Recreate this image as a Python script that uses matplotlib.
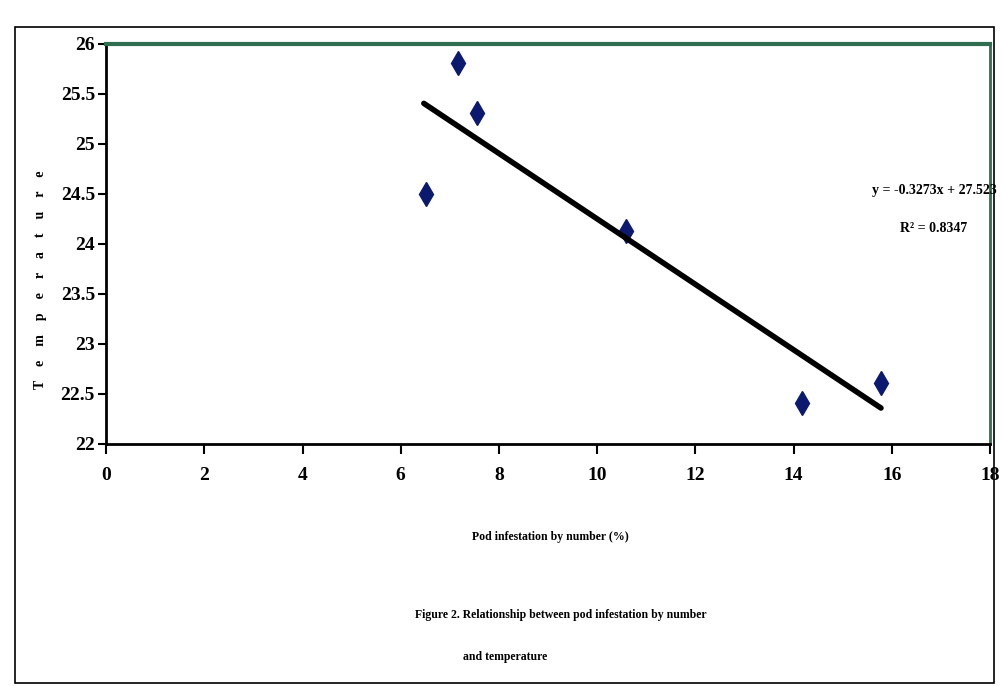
import matplotlib.pyplot as plt
import numpy as np
from matplotlib.patches import Rectangle

# datos
infestacion = [6.52, 7.17, 7.56, 10.59, 14.18, 15.78]
temperatura = [24.50, 25.81, 25.31, 24.13, 22.41, 22.61]
pendiente = -0.3273
intercepto = 27.523
r2 = 0.8347
x_ticks = [0, 2, 4, 6, 8, 10, 12, 14, 16, 18]
y_ticks = [22, 22.5, 23, 23.5, 24, 24.5, 25, 25.5, 26]

plt.rcParams["font.family"] = ["Liberation Serif", "DejaVu Serif"]
plt.rcParams["font.weight"] = "bold"

fig = plt.figure(figsize=(10.01, 6.86), dpi=100)
ax = fig.add_axes([0.106, 0.353, 0.883, 0.583])

# marco exterior de la figura
fig.patches.append(Rectangle((0.015, 0.005), 0.978, 0.955, transform=fig.transFigure,
                             fill=False, edgecolor="black", linewidth=1.2))

ax.plot(infestacion, temperatura, linestyle="none", marker="d", markersize=12,
        color="#0b1a6e")

# linea de tendencia
xt = np.array([min(infestacion) - 0.05, max(infestacion)])
ax.plot(xt, pendiente * xt + intercepto, color="black", linewidth=4,
        solid_capstyle="round")

ax.set_xlim(0, 18)
ax.set_ylim(22, 26)
ax.set_xticks(x_ticks)
ax.set_yticks(y_ticks)
ax.set_xticklabels([str(t) for t in x_ticks], fontsize=14, fontweight="bold")
ax.set_yticklabels([f"{t:g}" for t in y_ticks], fontsize=14, fontweight="bold")
ax.tick_params(axis="x", direction="out", length=7, width=1.5, pad=10)
ax.tick_params(axis="y", direction="out", length=6, width=1.5, pad=2)

ax.spines["left"].set_linewidth(2)
ax.spines["bottom"].set_linewidth(2)
ax.spines["top"].set_color("#2e6e4e")
ax.spines["top"].set_linewidth(3)
ax.spines["right"].set_color("#2e6e4e")
ax.spines["right"].set_linewidth(2)

fig.text(0.996, 0.722, f"y = {pendiente}x + {intercepto}", ha="right", va="center",
         fontsize=10, fontweight="bold")
fig.text(0.933, 0.667, f"R² = {r2}", ha="center", va="center",
         fontsize=10, fontweight="bold")

fig.text(0.04, 0.592, "    ".join("Temperature"), rotation=90, ha="center", va="center",
         fontsize=10, fontweight="bold")
fig.text(0.55, 0.217, "Pod infestation by number (%)", ha="center", va="center",
         fontsize=8.5, fontweight="bold")
fig.text(0.415, 0.103, "Figure 2. Relationship between pod infestation by number",
         ha="left", va="center", fontsize=8.5, fontweight="bold")
fig.text(0.463, 0.042, "and temperature", ha="left", va="center",
         fontsize=8.5, fontweight="bold")

fig.savefig("out.png", dpi=100)
